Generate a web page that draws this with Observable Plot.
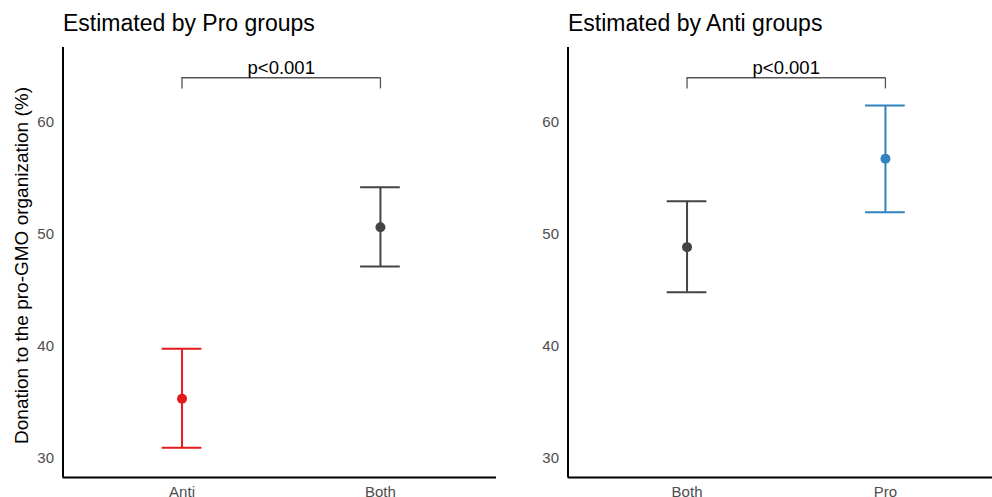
<!DOCTYPE html>
<html>
<head>
<meta charset="utf-8">
<script src="https://cdn.jsdelivr.net/npm/d3@7"></script>
<script src="https://cdn.jsdelivr.net/npm/@observablehq/plot@0.6"></script>
<style>
  html, body { margin: 0; padding: 0; background: #fff; overflow: hidden; }
  #wrap { display: flex; width: 992px; height: 497px; font-family: "Liberation Sans", Arial, sans-serif; }
  .panel { position: relative; width: 496px; height: 497px; }
  .title { position: absolute; top: 12px; font-size: 23px; line-height: 23px; color: #000; white-space: nowrap; }
  .panel svg { position: absolute; top: 40px; left: 0; overflow: visible; }
</style>
</head>
<body>
<div id="wrap"></div>
<script>
// Panel titles
const titles = ["Estimated by Pro groups", "Estimated by Anti groups"];
// Categories per panel
const catsLeft = ["Anti", "Both"];
const catsRight = ["Both", "Pro"];
// Estimates (mean, lower, upper) in %
const meanLeft = [35.33, 50.65];
const lowLeft = [30.96, 47.14];
const highLeft = [39.79, 54.22];
const meanRight = [48.87, 56.76];
const lowRight = [44.85, 51.99];
const highRight = [52.97, 61.52];
// Point colours per category
const colorLeft = ["#e41a1c", "#444444"];
const colorRight = ["#444444", "#3182bd"];
// Significance annotation
const pLabel = "p<0.001";
const bracketTop = 64.0;
const bracketBottom = 63.0;
// Axis
const yTicks = [30, 40, 50, 60];
const yLabel = "Donation to the pro-GMO organization (%)";

function panel(cats, mean, low, high, colors, title, marginLeft, showYLabel) {
  const data = cats.map((c, i) => ({i: i + 1, cat: c, mean: mean[i], low: low[i], high: high[i], color: colors[i]}));
  const yDom = [28.3, 66.7];
  const xDom = [0.4, 2.6];
  const step = 198.4;
  const marks = [
    Plot.ruleY([yDom[0]], {stroke: "#000", strokeWidth: 2}),
    Plot.ruleX([xDom[0]], {stroke: "#000", strokeWidth: 2}),
    Plot.axisY({ticks: yTicks, tickSize: 0, tickPadding: 9, fontSize: 15, color: "#4d4d4d", label: null}),
    Plot.axisX({ticks: [1, 2], tickFormat: d => cats[d - 1], tickSize: 0, tickPadding: 9, fontSize: 15, color: "#4d4d4d", label: null}),
    // error bar stems
    Plot.ruleX(data, {x: "i", y1: "low", y2: "high", stroke: "color", strokeWidth: 2}),
    // caps
    Plot.ruleY(data, {y: "low", x1: d => d.i - 0.1, x2: d => d.i + 0.1, stroke: "color", strokeWidth: 2}),
    Plot.ruleY(data, {y: "high", x1: d => d.i - 0.1, x2: d => d.i + 0.1, stroke: "color", strokeWidth: 2}),
    // points
    Plot.dot(data, {x: "i", y: "mean", r: 5, fill: "color"}),
    // bracket
    Plot.ruleY([bracketTop], {x1: 1, x2: 2, stroke: "#555", strokeWidth: 1.3}),
    Plot.ruleX([1, 2], {x: d => d, y1: bracketBottom, y2: bracketTop, stroke: "#555", strokeWidth: 1.3}),
    Plot.text([pLabel], {x: 1.5, y: bracketTop, text: d => d, dy: -4, lineAnchor: "bottom", fontSize: 18.5, fill: "#000"})
  ];
  if (showYLabel) {
    marks.push(Plot.text([yLabel], {frameAnchor: "left", text: d => d, rotate: -90, textAnchor: "middle", dx: -35, dy: 3, lineAnchor: "bottom", fontSize: 19, fill: "#000"}));
  }
  const svg = Plot.plot({
    width: 496,
    height: 457,
    marginTop: 7,
    marginBottom: 20,
    marginLeft: marginLeft,
    marginRight: 0,
    style: {fontFamily: "Liberation Sans, Arial, sans-serif", background: "transparent", overflow: "visible"},
    x: {type: "linear", domain: xDom, range: [marginLeft, marginLeft + 2.2 * step]},
    y: {type: "linear", domain: yDom},
    marks
  });
  const div = document.createElement("div");
  div.className = "panel";
  const t = document.createElement("div");
  t.className = "title";
  t.style.left = (marginLeft + 0.5) + "px";
  t.textContent = title;
  div.appendChild(t);
  div.appendChild(svg);
  return div;
}

const wrap = document.getElementById("wrap");
wrap.appendChild(panel(catsLeft, meanLeft, lowLeft, highLeft, colorLeft, titles[0], 62.5, true));
wrap.appendChild(panel(catsRight, meanRight, lowRight, highRight, colorRight, titles[1], 71.5, false));
</script>
</body>
</html>
